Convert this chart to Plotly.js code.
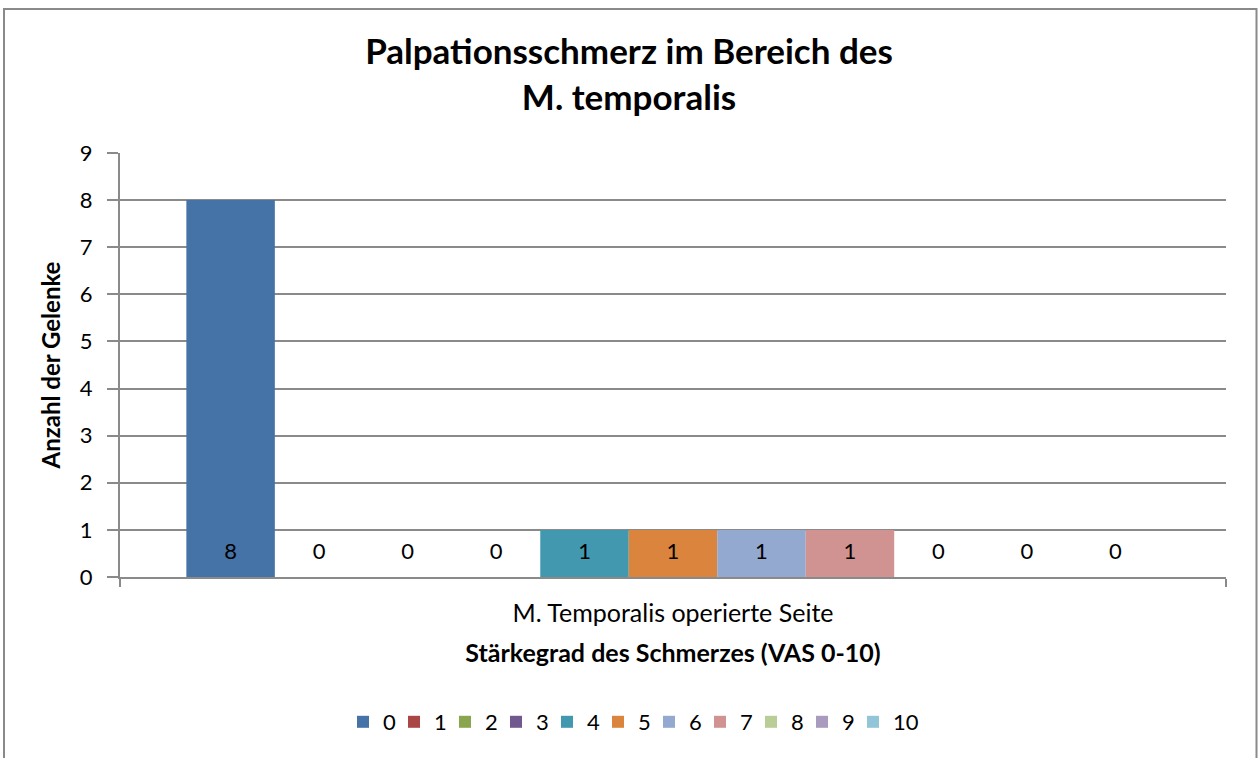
<!DOCTYPE html>
<html>
<head>
<meta charset="utf-8">
<script src="https://cdn.plot.ly/plotly-3.0.1.min.js"></script>
<style>
  html, body { margin: 0; padding: 0; background: #ffffff; }
  #chart { width: 1258px; height: 758px; }
</style>
</head>
<body>
<div id="chart"></div>
<script>
// ---- data ----
const category = ['M. Temporalis operierte Seite'];
const seriesNames = ['0', '1', '2', '3', '4', '5', '6', '7', '8', '9', '10'];
const counts = [8, 0, 0, 0, 1, 1, 1, 1, 0, 0, 0];
const colors = ['#4572A7', '#AA4643', '#89A54E', '#71588F', '#4198AF', '#DB843D',
                '#93A9CF', '#D19392', '#B9CD96', '#A99BBD', '#92C5D7'];
const yTicks = [0, 1, 2, 3, 4, 5, 6, 7, 8, 9];
const labelLevel = 0.5;   // vertical level of the value labels ("inside base")

const FONT = 'Lato, "Open Sans", sans-serif';
const GRID = '#8a8a8a';

const traces = [];
seriesNames.forEach((name, i) => {
  traces.push({
    type: 'bar',
    name: name,
    x: category,
    y: [counts[i]],
    marker: { color: colors[i], line: { width: 0 } },
    offsetgroup: 'g' + i,
    hoverinfo: 'skip',
    cliponaxis: false
  });
});
seriesNames.forEach((name, i) => {
  traces.push({
    type: 'scatter',
    mode: 'text',
    name: name,
    x: category,
    y: [labelLevel],
    text: [String(counts[i])],
    textposition: 'middle center',
    textfont: { family: FONT, size: 22, color: '#000000' },
    offsetgroup: 'g' + i,
    showlegend: false,
    hoverinfo: 'skip',
    cliponaxis: false
  });
});
// empty spacer entry so that the last legend label ("10") is not clipped
traces.push({
  type: 'scatter',
  mode: 'markers',
  name: '',
  x: [null],
  y: [null],
  xaxis: 'x2',
  yaxis: 'y2',
  marker: { color: 'rgba(0,0,0,0)', size: 1 },
  showlegend: true,
  hoverinfo: 'skip'
});

const L = 120, R = 1226, T = 153, B = 577;
const pw = R - L, ph = B - T;
const px2x = p => (p - L) / pw;
const px2y = p => (B - p) / ph;

const layout = {
  width: 1258,
  height: 758,
  paper_bgcolor: '#ffffff',
  plot_bgcolor: '#ffffff',
  margin: { l: L, r: 1258 - R, t: T, b: 758 - B, pad: 0 },
  barmode: 'group',
  bargap: 0.12,
  bargroupgap: 0,
  scattermode: 'group',
  scattergap: 0.12,
  font: { family: FONT, color: '#000000' },
  title: {
    text: 'Palpationsschmerz im Bereich des<br>M. temporalis',
    font: { family: FONT, size: 35, color: '#000000', weight: 'bold' },
    x: 0.5, xanchor: 'center', xref: 'container',
    y: 1 - 64 / 758, yanchor: 'top', yref: 'container'
  },
  xaxis: {
    type: 'category',
    showgrid: false,
    showline: true,
    linecolor: GRID,
    linewidth: 2,
    ticks: 'outside',
    tickson: 'boundaries',
    ticklen: 8,
    tickwidth: 2,
    tickcolor: GRID,
    ticklabelstandoff: 13,
    tickfont: { family: FONT, size: 25, color: '#000000' },
    title: {
      text: 'Stärkegrad des Schmerzes (VAS 0-10)',
      font: { family: FONT, size: 25, color: '#000000', weight: 'bold' },
      standoff: 18
    },
    fixedrange: true
  },
  xaxis2: { overlaying: 'x', visible: false, fixedrange: true },
  yaxis2: { overlaying: 'y', visible: false, fixedrange: true },
  yaxis: {
    range: [0, 9],
    tickvals: yTicks,
    ticktext: yTicks.map(String),
    showgrid: true,
    gridcolor: GRID,
    gridwidth: 2,
    zeroline: false,
    showline: true,
    linecolor: GRID,
    linewidth: 2,
    ticks: 'outside',
    ticklen: 11,
    tickwidth: 2,
    tickcolor: GRID,
    ticklabelstandoff: 10,
    tickfont: { family: FONT, size: 22, color: '#000000' },
    title: {
      text: 'Anzahl der Gelenke',
      font: { family: FONT, size: 24, color: '#000000', weight: 'bold' },
      standoff: 12
    },
    fixedrange: true
  },
  showlegend: true,
  legend: {
    orientation: 'h',
    x: px2x(343), xanchor: 'left', xref: 'paper',
    y: px2y(722), yanchor: 'middle',
    font: { family: FONT, size: 22, color: '#000000' },
    itemwidth: 30,
    entrywidth: 6,
    traceorder: 'normal',
    bgcolor: 'rgba(0,0,0,0)'
  },
  shapes: [{
    type: 'rect', xref: 'paper', yref: 'paper',
    x0: px2x(4), x1: px2x(1256.5), y0: px2y(775), y1: px2y(9),
    line: { color: '#8a8a8a', width: 2 },
    fillcolor: 'rgba(0,0,0,0)',
    layer: 'below'
  }]
};

Plotly.newPlot('chart', traces, layout, { displayModeBar: false, staticPlot: true });
</script>
</body>
</html>
